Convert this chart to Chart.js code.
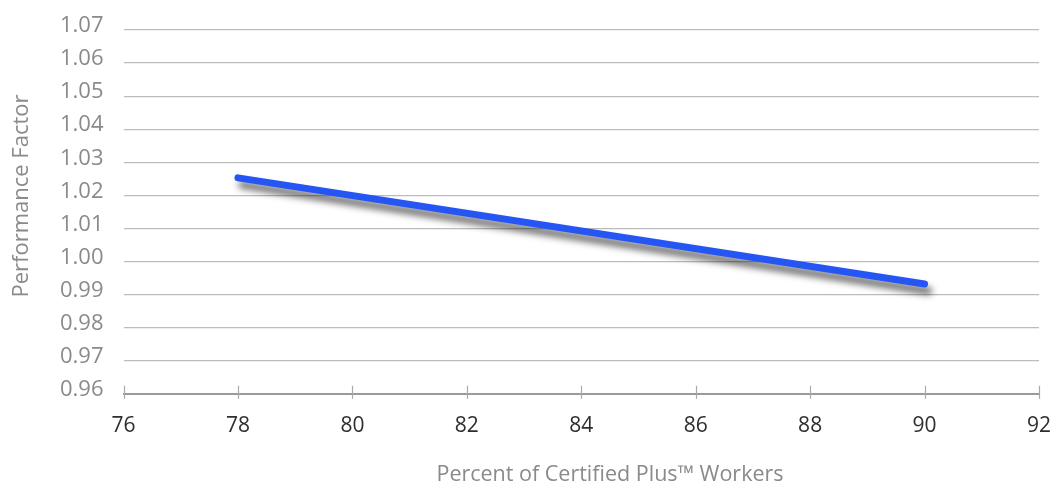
<!DOCTYPE html>
<html>
<head>
<meta charset="utf-8">
<title>Performance Factor vs Certified Plus Workers</title>
<script src="https://cdn.jsdelivr.net/npm/chart.js@4.4.1/dist/chart.umd.min.js"></script>
<style>
  html, body { margin: 0; padding: 0; background: #ffffff; }
  #wrap { width: 1055px; height: 484px; position: relative; }
</style>
</head>
<body>
<div id="wrap"><canvas id="chart" width="1055" height="484"></canvas></div>
<script>
// Trend of performance factor against share of certified workers
const percentWorkers = [78, 90];
const performanceFactor = [1.0253, 0.9932];

// Axis tick values
const xTickValues = [76, 78, 80, 82, 84, 86, 88, 90, 92];
const yTickValues = [0.96, 0.97, 0.98, 0.99, 1.00, 1.01, 1.02, 1.03, 1.04, 1.05, 1.06, 1.07];

const xTitle = 'Percent of Certified Plus\u2122 Workers';
const yTitle = 'Performance Factor';

const FONT = '"Open Sans", "Noto Sans", sans-serif';

// Soft drop shadow beneath the trend line
const lineShadow = {
  id: 'lineShadow',
  beforeDatasetsDraw(chart) {
    const ctx = chart.ctx;
    ctx.save();
    ctx.shadowColor = 'rgba(0,0,0,0.62)';
    ctx.shadowBlur = 7;
    ctx.shadowOffsetX = 4;
    ctx.shadowOffsetY = 7;
  },
  afterDatasetsDraw(chart) {
    chart.ctx.restore();
  }
};

// Short tick marks crossing the x axis line, plus the axis titles
const axisDecor = {
  id: 'axisDecor',
  afterDraw(chart) {
    const ctx = chart.ctx;
    const xs = chart.scales.x;
    const area = chart.chartArea;
    ctx.save();
    ctx.strokeStyle = '#a9a9a9';
    ctx.lineWidth = 1.2;
    xs.ticks.forEach(t => {
      const px = Math.round(xs.getPixelForValue(t.value)) + 0.5;
      ctx.beginPath();
      ctx.moveTo(px, area.bottom - 8);
      ctx.lineTo(px, area.bottom + 5);
      ctx.stroke();
    });

    ctx.fillStyle = '#8a8a8a';
    ctx.textAlign = 'center';
    ctx.textBaseline = 'middle';
    ctx.font = '21.5px ' + FONT;
    ctx.fillText(xTitle, 610, 475);

    ctx.font = '22px ' + FONT;
    ctx.translate(22, 196);
    ctx.rotate(-Math.PI / 2);
    ctx.fillText(yTitle, 0, 0);
    ctx.restore();
  }
};

new Chart(document.getElementById('chart'), {
  type: 'scatter',
  data: {
    datasets: [{
      data: percentWorkers.map((x, i) => ({ x, y: performanceFactor[i] })),
      showLine: true,
      borderColor: '#2556f4',
      borderWidth: 7,
      borderCapStyle: 'round',
      pointRadius: 0,
      pointHoverRadius: 0,
      fill: false,
      tension: 0
    }]
  },
  options: {
    responsive: false,
    animation: false,
    events: [],
    layout: { padding: { left: 40, right: 16, top: 30, bottom: 25 } },
    plugins: {
      legend: { display: false },
      tooltip: { enabled: false }
    },
    scales: {
      x: {
        type: 'linear',
        min: 76,
        max: 92,
        afterBuildTicks(scale) { scale.ticks = xTickValues.map(v => ({ value: v })); },
        afterFit(scale) { scale.paddingLeft = 0; scale.paddingRight = 0; },
        grid: { display: true, drawOnChartArea: false, drawTicks: false },
        border: { display: true, color: '#9a9a9a', width: 2 },
        ticks: {
          padding: 20,
          color: '#2e2e2e',
          font: { family: FONT, size: 21 },
          callback: v => String(v)
        }
      },
      y: {
        type: 'linear',
        min: 0.96,
        max: 1.07,
        afterBuildTicks(scale) { scale.ticks = yTickValues.map(v => ({ value: v })); },
        afterFit(scale) { scale.paddingTop = 0; scale.paddingBottom = 0; },
        grid: { color: '#bcbcbc', lineWidth: 1.2, drawTicks: false },
        border: { display: false },
        ticks: {
          padding: 20,
          labelOffset: -4,
          color: '#8a8a8a',
          font: { family: FONT, size: 22 },
          callback: v => Number(v).toFixed(2)
        }
      }
    }
  },
  plugins: [lineShadow, axisDecor]
});
</script>
</body>
</html>
